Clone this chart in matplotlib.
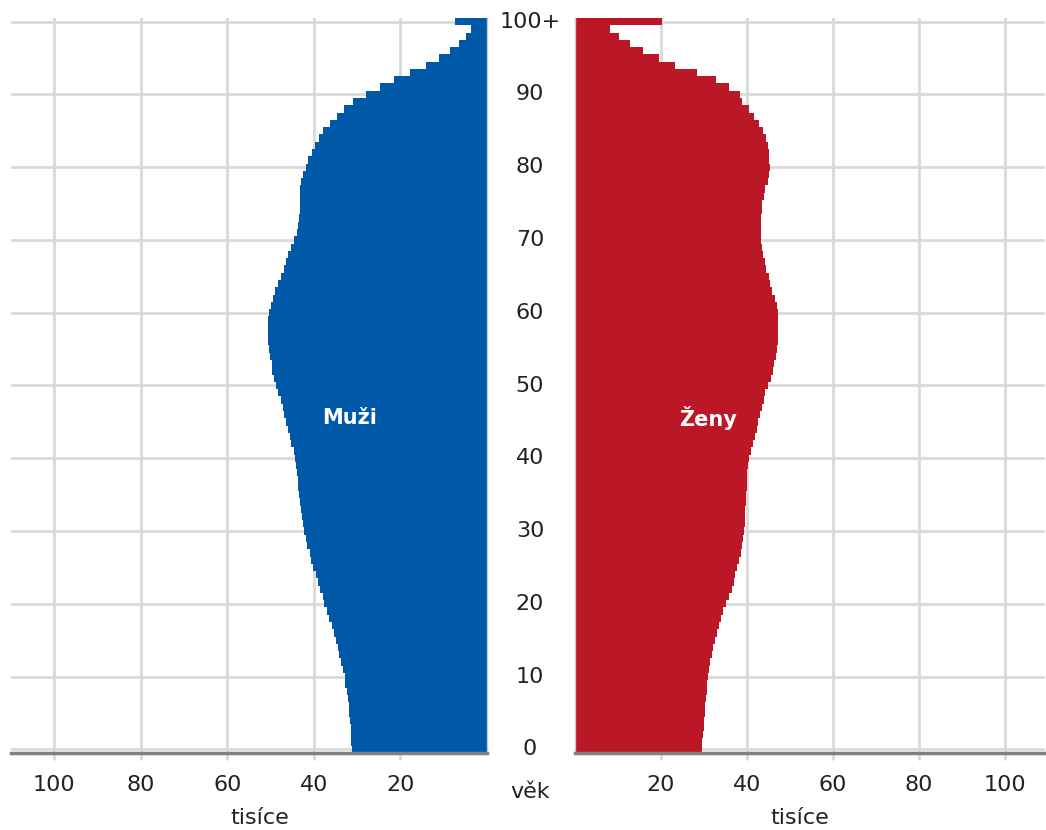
import matplotlib
matplotlib.use('Agg')
import matplotlib.pyplot as plt
import matplotlib.transforms as mtransforms

# Age groups 0..99 and 100+
ages = list(range(101))
age_labels = ['0', '10', '20', '30', '40', '50', '60', '70', '80', '90', '100+']
age_label_pos = [0, 10, 20, 30, 40, 50, 60, 70, 80, 90, 100]

# thousands of persons
men = [31.3, 31.4, 31.4, 31.5, 31.6, 31.9, 32.0, 32.1, 32.3, 32.7,
       32.9, 33.3, 33.8, 34.1, 34.5, 34.9, 35.4, 35.9, 36.5, 37.0,
       37.6, 38.0, 38.7, 39.1, 39.6, 40.1, 40.6, 41.0, 41.5, 41.9,
       42.4, 42.6, 42.8, 43.0, 43.2, 43.4, 43.6, 43.7, 43.9, 44.2,
       44.4, 44.7, 45.2, 45.6, 46.0, 46.4, 46.8, 47.2, 47.7, 48.2,
       48.8, 49.2, 49.6, 49.8, 50.1, 50.4, 50.5, 50.6, 50.6, 50.5,
       50.4, 50.0, 49.5, 48.9, 48.3, 47.6, 47.0, 46.4, 45.9, 45.2,
       44.5, 44.0, 43.6, 43.4, 43.3, 43.3, 43.2, 43.1, 42.9, 42.5,
       41.9, 41.3, 40.5, 39.8, 38.8, 37.8, 36.3, 34.7, 33.0, 31.0,
       27.9, 24.7, 21.6, 17.9, 14.2, 11.1, 8.5, 6.4, 4.9, 3.7,
       7.4]
women = [29.6, 29.6, 29.8, 30.0, 30.1, 30.2, 30.3, 30.5, 30.6, 30.7,
         30.9, 31.2, 31.5, 31.9, 32.2, 32.6, 33.1, 33.5, 34.0, 34.5,
         35.1, 35.8, 36.4, 36.9, 37.3, 37.7, 38.2, 38.6, 38.9, 39.1,
         39.3, 39.5, 39.5, 39.6, 39.7, 39.8, 39.9, 40.0, 40.1, 40.2,
         40.4, 40.9, 41.4, 41.9, 42.3, 42.6, 43.0, 43.4, 43.9, 44.3,
         44.9, 45.5, 46.0, 46.3, 46.7, 47.0, 47.2, 47.3, 47.3, 47.3,
         47.2, 46.9, 46.4, 45.9, 45.4, 45.0, 44.5, 44.1, 43.7, 43.4,
         43.2, 43.2, 43.2, 43.3, 43.4, 43.6, 43.9, 44.3, 44.9, 45.2,
         45.3, 45.2, 45.0, 44.8, 44.4, 43.8, 42.8, 41.7, 40.5, 38.8,
         38.4, 35.9, 32.7, 28.4, 23.3, 19.6, 15.9, 12.8, 10.2, 8.1,
         20.2]
x_ticks = [20, 40, 60, 80, 100]

blue = '#0058a8'
red = '#bb1727'
grid_c = '#d9d9d9'

plt.rcParams['font.family'] = 'DejaVu Sans'

fig = plt.figure(figsize=(10.46, 8.30), dpi=100)
axL = fig.add_axes([11 / 1046, 77 / 830, 476 / 1046, 735 / 830])
axR = fig.add_axes([575 / 1046, 77 / 830, 470 / 1046, 735 / 830])

axL.barh(ages, men, height=1.0, color=blue, linewidth=0)
axR.barh(ages, women, height=1.0, color=red, linewidth=0)

axL.set_xlim(110, 0)
axR.set_xlim(0, 109.3)

for ax, inner in ((axL, 'right'), (axR, 'left')):
    ax.set_ylim(-0.5, 100.5)
    ax.set_axisbelow(True)
    ax.set_xticks(x_ticks)
    ax.set_yticks(age_label_pos)
    ax.grid(True, color=grid_c, linewidth=2)
    ax.tick_params(axis='x', length=5, width=2, color=grid_c, pad=11,
                   labelsize=16, labelcolor='#222222')
    ax.tick_params(axis='y', length=0, labelleft=False, labelright=False)
    for s in ('top', 'left', 'right'):
        ax.spines[s].set_visible(False)
    ax.spines[inner].set_visible(True)
    ax.spines[inner].set_color('#c8c8c8')
    ax.spines[inner].set_linewidth(1)
    ax.spines['bottom'].set_color('#808080')
    ax.spines['bottom'].set_linewidth(2.5)

# age labels in the middle column
trans = mtransforms.blended_transform_factory(fig.transFigure, axL.transData)
for pos, lab in zip(age_label_pos, age_labels):
    axL.text(530 / 1046, pos, lab, transform=trans, ha='center', va='center',
             fontsize=16, color='#222222', clip_on=False)

fig.text(530 / 1046, 1 - 792 / 830, 'věk', ha='center', va='center',
         fontsize=16, color='#222222')
fig.text(260 / 1046, 1 - 818 / 830, 'tisíce', ha='center', va='center',
         fontsize=16, color='#222222')
fig.text(800 / 1046, 1 - 818 / 830, 'tisíce', ha='center', va='center',
         fontsize=16, color='#222222')

axL.text(31.7, 45.5, 'Muži', color='white', fontsize=15, fontweight='bold',
         ha='center', va='center')
axR.text(30.9, 45.5, 'Ženy', color='white', fontsize=15, fontweight='bold',
         ha='center', va='center')

fig.savefig('out.png', dpi=100)
